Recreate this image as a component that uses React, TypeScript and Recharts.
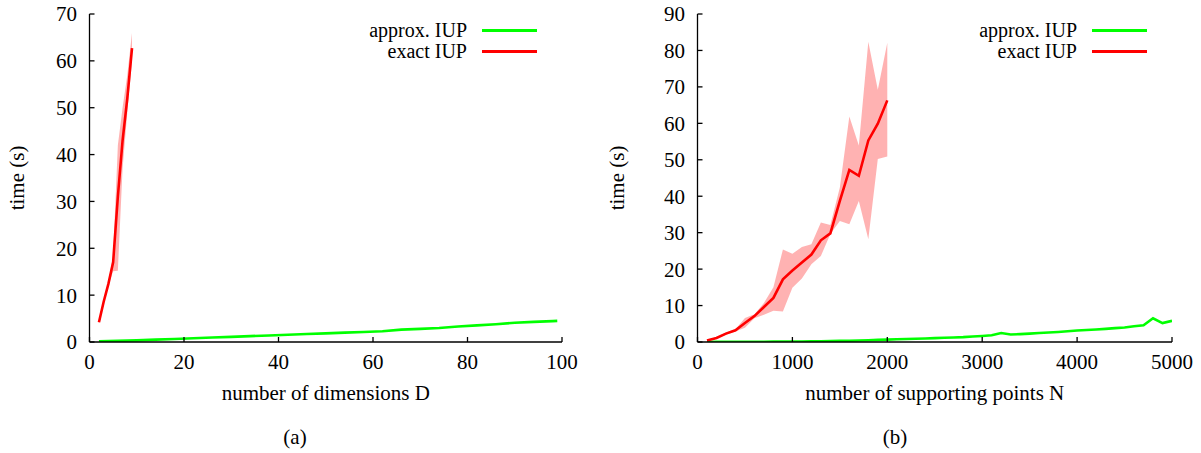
import { ComposedChart, Line, Area, XAxis, YAxis, Legend } from 'recharts'

const FONT = '"Liberation Serif", "Times New Roman", serif'
const FS = 21

// (a) runtime against the number of dimensions D
const dimsApprox = [2, 6, 10, 14, 18, 22, 26, 30, 34, 38, 42, 46, 50, 54, 58, 62, 66, 70, 74, 78, 82, 86, 90, 94, 98, 99]
const timeApproxD = [0.15, 0.25, 0.35, 0.5, 0.65, 0.8, 0.95, 1.1, 1.25, 1.4, 1.55, 1.7, 1.85, 2.0, 2.15, 2.3, 2.65, 2.8, 3.0, 3.3, 3.55, 3.8, 4.1, 4.3, 4.45, 4.5]
const dimsExact = [2, 3, 4, 5, 6, 7, 8, 9]
const timeExactD = [4.2, 8.6, 12.4, 17, 31, 43, 52, 62.7]
const timeExactDLow = [3.9, 8.2, 12, 15.1, 15.2, 37, 49, 60]
const timeExactDHigh = [4.5, 9, 12.8, 18.5, 42, 50, 57, 66]
const ticksD = [0, 20, 40, 60, 80, 100]
const ticksTimeD = [0, 10, 20, 30, 40, 50, 60, 70]

// (b) runtime against the number of supporting points N
const pointsApprox = [
  100, 200, 300, 400, 500, 600, 700, 800, 900, 1000,
  1100, 1200, 1300, 1400, 1500, 1600, 1700, 1800, 1900, 2000,
  2100, 2200, 2300, 2400, 2500, 2600, 2700, 2800, 2900, 3000,
  3100, 3200, 3300, 3400, 3500, 3600, 3700, 3800, 3900, 4000,
  4100, 4200, 4300, 4400, 4500, 4600, 4700, 4800, 4900, 5000,
]
const timeApproxN = [
  0.02, 0.03, 0.04, 0.05, 0.06, 0.07, 0.08, 0.1, 0.11, 0.13,
  0.15, 0.18, 0.21, 0.25, 0.3, 0.35, 0.42, 0.5, 0.58, 0.66,
  0.74, 0.82, 0.9, 0.98, 1.06, 1.15, 1.24, 1.34, 1.5, 1.65,
  1.85, 2.45, 2.05, 2.15, 2.3, 2.45, 2.6, 2.75, 2.95, 3.15,
  3.3, 3.45, 3.6, 3.8, 4.0, 4.3, 4.6, 6.5, 5.2, 5.8,
]
const pointsExact = [100, 200, 300, 400, 500, 600, 700, 800, 900, 1000, 1100, 1200, 1300, 1400, 1500, 1600, 1700, 1800, 1900, 2000]
const timeExactN = [0.4, 1.1, 2.3, 3.2, 5.2, 7.1, 9.6, 12.1, 17.2, 19.6, 21.8, 24.0, 27.9, 29.8, 38.7, 47.2, 45.6, 55.3, 59.9, 66.3]
const timeExactNLow = [0.2, 0.9, 2.0, 2.9, 3.9, 6.5, 7.5, 8.6, 8.4, 14.9, 17.4, 21.3, 23.6, 29.6, 33.2, 32.3, 38.7, 28.2, 50.2, 50.9]
const timeExactNHigh = [0.6, 1.3, 2.6, 3.5, 6.6, 7.6, 10.7, 15, 25.4, 24.2, 26.1, 26.8, 32.8, 32.1, 42.4, 61.9, 53.9, 82.4, 69.2, 82.1]
const ticksN = [0, 1000, 2000, 3000, 4000, 5000]
const ticksTimeN = [0, 10, 20, 30, 40, 50, 60, 70, 80, 90]

const GREEN = '#00ff00'
const RED = '#ff0000'

const pairs = (xs: number[], ys: number[]) => xs.map((x, i) => ({ x, y: ys[i] }))
const band = (xs: number[], lo: number[], hi: number[]) => xs.map((x, i) => ({ x, range: [lo[i], hi[i]] }))

const tickStyle = { fill: '#000', fontSize: FS, fontFamily: FONT }
const frame = { stroke: '#000', strokeWidth: 1.3 }

function XTitle({ viewBox, text }: any) {
  const { x, y, width } = viewBox
  return (
    <text x={x + width / 2} y={y + 58} textAnchor="middle" fill="#000" fontSize={FS} fontFamily={FONT}>
      {text}
    </text>
  )
}

function YTitle({ viewBox, text }: any) {
  const { x, y, height } = viewBox
  const cx = x + 24
  const cy = y + height / 2
  return (
    <text x={cx} y={cy} transform={`rotate(-90 ${cx} ${cy})`} textAnchor="middle" fill="#000" fontSize={FS} fontFamily={FONT}>
      {text}
    </text>
  )
}

function IupLegend({ payload }: any) {
  const items = (payload ?? []).filter((p: any) => p.type !== 'none')
  return (
    <div style={{ fontFamily: FONT, fontSize: 20, color: '#000' }}>
      {items.map((e: any) => (
        <div key={e.value} style={{ display: 'flex', alignItems: 'center', justifyContent: 'flex-end', height: 21 }}>
          <span style={{ lineHeight: '21px' }}>{e.value}</span>
          <span style={{ display: 'inline-block', width: 55, height: 2.5, background: e.color, marginLeft: 15 }} />
        </div>
      ))}
    </div>
  )
}

interface PanelProps {
  width: number
  yAxisWidth: number
  marginRight: number
  xDomain: [number, number]
  xTicks: number[]
  yDomain: [number, number]
  yTicks: number[]
  xTitle: string
  approx: { x: number; y: number }[]
  exact: { x: number; y: number }[]
  spread: { x: number; range: number[] }[]
  legendLeft: number
}

function Panel(p: PanelProps) {
  return (
    <ComposedChart width={p.width} height={453} margin={{ top: 14, right: p.marginRight, bottom: 0, left: 0 }}>
      <XAxis
        dataKey="x" type="number" domain={p.xDomain} ticks={p.xTicks} allowDataOverflow
        height={111} tickSize={-5} tickMargin={17} tick={tickStyle}
        axisLine={frame} tickLine={frame}
        label={<XTitle text={p.xTitle} />}
      />
      <XAxis
        xAxisId="top" orientation="top" type="number" domain={p.xDomain} ticks={p.xTicks} allowDataOverflow
        height={0} tickSize={-5} tick={false} axisLine={frame} tickLine={frame}
      />
      <YAxis
        type="number" domain={p.yDomain} ticks={p.yTicks} allowDataOverflow
        width={p.yAxisWidth} tickSize={-5} tickMargin={17.5} tick={tickStyle}
        axisLine={frame} tickLine={frame}
        label={<YTitle text="time (s)" />}
      />
      <YAxis
        yAxisId="right" orientation="right" type="number" domain={p.yDomain} ticks={p.yTicks} allowDataOverflow
        width={0} tickSize={-5} tick={false} axisLine={frame} tickLine={frame}
      />
      <Legend
        layout="vertical" align="center" verticalAlign="middle"
        content={<IupLegend />}
        wrapperStyle={{ left: p.legendLeft, top: 20, width: 250 }}
      />
      <Area
        data={p.spread} dataKey="range" type="linear" stroke="none"
        fill={RED} fillOpacity={0.3} legendType="none" isAnimationActive={false}
      />
      <Line
        data={p.approx} dataKey="y" name="approx. IUP" type="linear" stroke={GREEN}
        strokeWidth={2.6} dot={false} isAnimationActive={false}
      />
      <Line
        data={p.exact} dataKey="y" name="exact IUP" type="linear" stroke={RED}
        strokeWidth={2.6} dot={false} isAnimationActive={false}
      />
    </ComposedChart>
  )
}

export default function App() {
  const caption = { position: 'absolute' as const, top: 425, fontFamily: FONT, fontSize: FS, color: '#000', textAlign: 'center' as const, width: 60 }
  return (
    <div style={{ position: 'absolute', left: 0, top: 0, width: 1201, height: 453, background: '#fff', overflow: 'hidden' }}>
      <div style={{ position: 'absolute', left: 0, top: 0 }}>
        <Panel
          width={600} yAxisWidth={89.5} marginRight={38}
          xDomain={[0, 100]} xTicks={ticksD} yDomain={[0, 70]} yTicks={ticksTimeD}
          xTitle="number of dimensions D"
          approx={pairs(dimsApprox, timeApproxD)}
          exact={pairs(dimsExact, timeExactD)}
          spread={band(dimsExact, timeExactDLow, timeExactDHigh)}
          legendLeft={287}
        />
      </div>
      <div style={{ position: 'absolute', left: 600, top: 0 }}>
        <Panel
          width={601} yAxisWidth={97.5} marginRight={29}
          xDomain={[0, 5000]} xTicks={ticksN} yDomain={[0, 90]} yTicks={ticksTimeN}
          xTitle="number of supporting points N"
          approx={pairs(pointsApprox, timeApproxN)}
          exact={pairs(pointsExact, timeExactN)}
          spread={band(pointsExact, timeExactNLow, timeExactNHigh)}
          legendLeft={297}
        />
      </div>
      <div style={{ ...caption, left: 265 }}>(a)</div>
      <div style={{ ...caption, left: 865 }}>(b)</div>
    </div>
  )
}
